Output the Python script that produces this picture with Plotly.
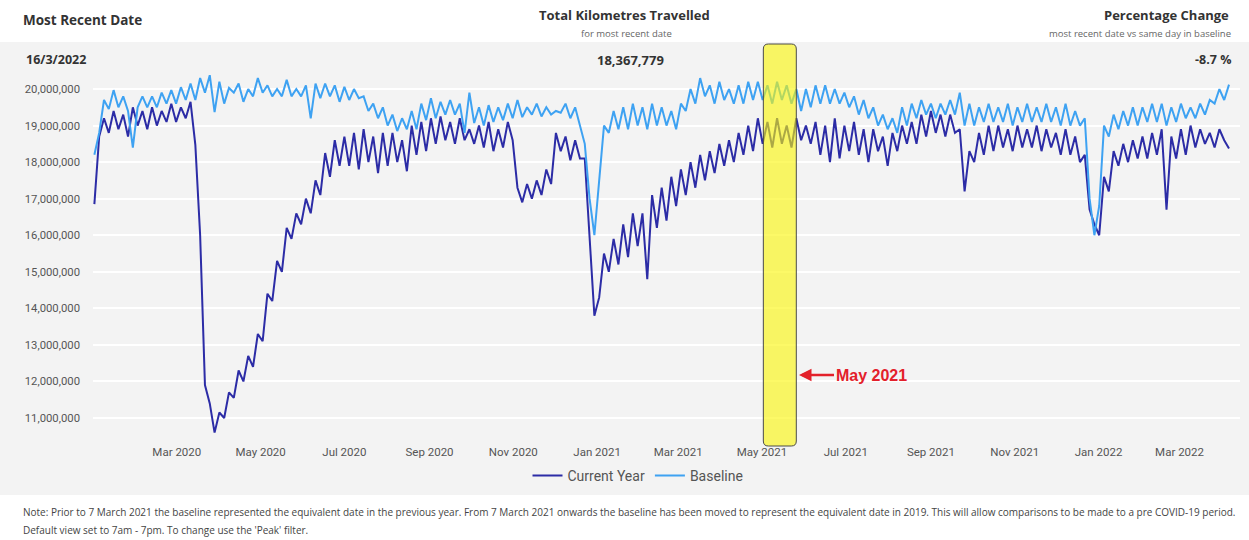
import pandas as pd
import plotly.graph_objects as go

# ---------------- data (millions of km) ----------------
# one reading per week: mid-week (weekday) level and weekend level
week_start = pd.date_range("2020-01-01", periods=119, freq="7D")

current_weekday = [
    16.85, 19.2, 19.4, 19.3, 19.5, 19.4, 19.5, 19.4, 19.6, 19.5,
    19.65, 16.0, 11.4, 11.15, 11.7, 12.3, 12.7, 13.3, 14.4, 15.3,
    16.2, 16.6, 17.0, 17.5, 18.25, 18.6, 18.7, 18.8, 18.9, 18.7,
    18.8, 18.8, 18.6, 19.0, 19.1, 19.2, 19.25, 19.1, 19.2, 18.9,
    19.0, 19.1, 18.9, 19.1, 17.3, 17.4, 17.5, 17.8, 18.8, 18.7,
    18.6, 18.1, 13.8, 15.5, 15.9, 16.3, 16.6, 16.6, 17.1, 17.3,
    17.6, 17.8, 18.0, 18.2, 18.3, 18.5, 18.6, 18.8, 19.0, 19.2,
    19.1, 19.2, 19.0, 19.2, 19.0, 19.1, 19.0, 19.2, 19.0, 19.1,
    18.9, 18.9, 18.7, 18.8, 19.0, 19.1, 19.3, 19.4, 19.3, 19.3,
    18.9, 18.3, 18.8, 19.0, 19.0, 18.9, 19.0, 18.9, 19.0, 18.9,
    18.8, 18.9, 18.7, 18.2, 16.3, 17.6, 18.3, 18.5, 18.6, 18.7,
    18.8, 18.9, 18.7, 18.9, 19.0, 18.9, 18.8, 18.9, 18.37,
]
current_weekend = [
    18.7, 18.8, 18.9, 18.7, 19.0, 18.9, 19.0, 19.1, 19.1, 19.2,
    18.47, 11.9, 10.6, 11.0, 11.55, 12.0, 12.4, 13.1, 14.2, 15.0,
    15.9, 16.3, 16.6, 17.1, 17.6, 17.9, 17.9, 17.8, 18.0, 17.7,
    17.9, 18.0, 17.75, 18.2, 18.3, 18.5, 18.6, 18.5, 18.6, 18.5,
    18.4, 18.3, 18.4, 18.6, 16.9, 17.0, 17.1, 17.4, 18.3, 18.05,
    18.1, 16.0, 14.3, 15.0, 15.2, 15.4, 15.7, 14.8, 16.2, 16.4,
    16.8, 17.1, 17.3, 17.5, 17.7, 17.9, 18.0, 18.2, 18.3, 18.5,
    18.4, 18.5, 18.4, 18.6, 18.5, 18.2, 18.0, 18.1, 18.3, 18.2,
    18.0, 18.3, 17.9, 18.3, 18.5, 18.5, 18.7, 18.8, 18.7, 18.8,
    17.2, 18.0, 18.2, 18.3, 18.4, 18.3, 18.4, 18.4, 18.3, 18.4,
    18.2, 18.2, 18.0, 16.7, 16.0, 17.2, 17.9, 18.0, 18.1, 18.1,
    18.2, 16.7, 18.1, 18.2, 18.4, 18.5, 18.4, 18.6,
]
baseline_weekday = [
    18.2, 19.7, 19.97, 19.8, 18.4, 19.8, 19.8, 19.9, 19.97, 20.05,
    20.15, 20.3, 20.38, 20.2, 20.03, 20.15, 20.0, 20.3, 20.1, 20.0,
    20.25, 20.0, 20.1, 20.15, 20.15, 20.1, 20.06, 20.0, 19.8, 19.6,
    19.5, 19.3, 19.2, 19.4, 19.6, 19.75, 19.65, 19.7, 19.6, 19.9,
    19.5, 19.56, 19.5, 19.6, 19.7, 19.5, 19.6, 19.5, 19.4, 19.6,
    19.5, 18.5, 16.0, 19.0, 19.4, 19.5, 19.6, 19.5, 19.6, 19.5,
    19.4, 19.6, 20.0, 20.3, 20.1, 20.2, 20.0, 20.1, 20.2, 20.2,
    20.1, 20.2, 20.1, 20.0, 20.0, 20.1, 20.1, 20.0, 19.9, 19.8,
    19.7, 19.5, 19.3, 19.2, 19.5, 19.6, 19.7, 19.6, 19.6, 19.7,
    19.9, 19.6, 19.5, 19.6, 19.5, 19.6, 19.5, 19.6, 19.5, 19.6,
    19.5, 19.6, 19.4, 19.2, 16.0, 19.0, 19.3, 19.4, 19.5, 19.5,
    19.6, 19.6, 19.5, 19.6, 19.5, 19.6, 19.7, 20.0, 20.12,
]
baseline_weekend = [
    18.8, 19.45, 19.5, 19.4, 19.5, 19.5, 19.5, 19.6, 19.6, 19.7,
    19.7, 19.9, 19.37, 19.6, 19.9, 19.65, 19.8, 19.9, 19.8, 19.8,
    19.8, 19.8, 19.2, 19.75, 19.8, 19.65, 19.7, 19.75, 19.4, 19.2,
    19.0, 18.85, 18.9, 18.9, 19.15, 19.2, 19.3, 19.3, 18.8, 19.07,
    19.0, 19.1, 19.15, 19.2, 19.23, 19.3, 19.25, 19.3, 19.35, 19.2,
    18.96, 17.0, 17.5, 18.8, 18.9, 18.9, 19.0, 18.9, 19.0, 19.0,
    18.9, 19.4, 19.6, 19.8, 19.6, 19.7, 19.6, 19.6, 19.7, 19.7,
    19.6, 19.7, 19.6, 19.4, 19.5, 19.6, 19.6, 19.6, 19.5, 19.3,
    19.2, 19.0, 18.9, 18.8, 19.0, 19.2, 19.3, 19.2, 19.3, 19.3,
    19.0, 19.0, 19.1, 19.1, 19.1, 19.0, 19.1, 19.1, 19.1, 19.1,
    19.0, 19.0, 19.0, 17.0, 16.8, 18.7, 18.9, 19.0, 19.0, 19.1,
    19.1, 19.0, 19.1, 19.2, 19.2, 19.3, 19.6, 19.7,
]

y_ticks = [11, 12, 13, 14, 15, 16, 17, 18, 19, 20]
x_tick_dates = ["2020-03-01", "2020-05-01", "2020-07-01", "2020-09-01", "2020-11-01",
                "2021-01-01", "2021-03-01", "2021-05-01", "2021-07-01", "2021-09-01",
                "2021-11-01", "2022-01-01", "2022-03-01"]
x_tick_labels = ["Mar 2020", "May 2020", "Jul 2020", "Sep 2020", "Nov 2020",
                 "Jan 2021", "Mar 2021", "May 2021", "Jul 2021", "Sep 2021",
                 "Nov 2021", "Jan 2022", "Mar 2022"]


def interleave(weekday, weekend):
    xs, ys = [], []
    for i, d in enumerate(week_start):
        xs.append(d)
        ys.append(weekday[i] * 1e6)
        if i < len(weekend):
            xs.append(d + pd.Timedelta(hours=84))
            ys.append(weekend[i] * 1e6)
    return xs, ys


cx, cy = interleave(current_weekday, current_weekend)
bx, by = interleave(baseline_weekday, baseline_weekend)

# ---------------- layout helpers ----------------
W, H = 1249, 540
ML, MR, MT, MB = 93, 9, 66, 97
PW, PH = W - ML - MR, H - MT - MB
X_RANGE = ["2019-12-31", "2022-04-14"]


def px(x):
    return (x - ML) / PW


def py(y):
    return (H - MB - y) / PH


def date_paper(d):
    t0, t1 = pd.Timestamp(X_RANGE[0]), pd.Timestamp(X_RANGE[1])
    return (pd.Timestamp(d) - t0) / (t1 - t0)


HEAD = "Open Sans"
AX = "Roboto"
DARK = "#2c2ca6"
LIGHT = "#3ea2f2"

fig = go.Figure()
fig.add_trace(go.Scatter(x=cx, y=cy, mode="lines", name="Current Year",
                         line=dict(color=DARK, width=2)))
fig.add_trace(go.Scatter(x=bx, y=by, mode="lines", name="Baseline",
                         line=dict(color=LIGHT, width=2)))

# rounded highlight box around May 2021
bx0, bx1 = date_paper("2021-05-02"), date_paper("2021-05-26")
by0, by1 = py(446), py(44)
rx, ry = 5 / PW, 5 / PH
box_path = (f"M {bx0 + rx},{by0} L {bx1 - rx},{by0} Q {bx1},{by0} {bx1},{by0 + ry} "
            f"L {bx1},{by1 - ry} Q {bx1},{by1} {bx1 - rx},{by1} "
            f"L {bx0 + rx},{by1} Q {bx0},{by1} {bx0},{by1 - ry} "
            f"L {bx0},{by0 + ry} Q {bx0},{by0} {bx0 + rx},{by0} Z")

shapes = [
    dict(type="rect", xref="paper", yref="paper", x0=px(0), x1=px(W),
         y0=py(495), y1=py(42), fillcolor="#f3f3f3", line=dict(width=0),
         layer="below"),
    dict(type="path", xref="paper", yref="paper", path=box_path,
         fillcolor="rgba(250,246,10,0.62)", line=dict(color="#4a4a4a", width=1),
         layer="above"),
]

ann = []


def txt(text, x, y, size, anchor="left", bold=False, color="#333333", family=HEAD):
    ann.append(dict(text=f"<b>{text}</b>" if bold else text, x=px(x), y=py(y),
                    xref="paper", yref="paper", xanchor=anchor, yanchor="middle",
                    showarrow=False, font=dict(size=size, color=color, family=family)))


txt("Most Recent Date", 21, 20, 13.5, bold=True)
txt("16/3/2022", 24, 60, 12.5, bold=True)
txt("Total Kilometres Travelled", 624, 15, 13, anchor="center", bold=True)
txt("for most recent date", 626, 33, 9.5, anchor="center", color="#666666")
txt("18,367,779", 630, 60, 13, anchor="center", bold=True)
txt("Percentage Change", 1231, 15, 13, anchor="right", bold=True)
txt("most recent date vs same day in baseline", 1233, 33, 9.5, anchor="right", color="#666666")
txt("-8.7 %", 1233, 60, 12.5, anchor="right", bold=True)
txt("Note: Prior to 7 March 2021 the baseline represented the equivalent date in the previous year. "
    "From 7 March 2021 onwards the baseline has been moved to represent the equivalent date in 2019. "
    "This will allow comparisons to be made to a pre COVID-19 period.", 21, 512, 10, color="#444444")
txt("Default view set to 7am - 7pm. To change use the 'Peak' filter.", 21, 530, 10, color="#444444")

ann.append(dict(text="<b>May 2021</b>", x=px(799), y=py(375), xref="paper", yref="paper",
                showarrow=True, ax=72, ay=0, arrowhead=2, arrowsize=1, arrowwidth=2.5,
                arrowcolor="#e3202a", standoff=0,
                font=dict(size=16, color="#e3202a", family="Liberation Sans")))

fig.update_layout(
    width=W, height=H,
    margin=dict(l=ML, r=MR, t=MT, b=MB),
    paper_bgcolor="white", plot_bgcolor="#f3f3f3",
    shapes=shapes, annotations=ann,
    legend=dict(orientation="h", x=px(638), y=py(476), xanchor="center", yanchor="middle",
                font=dict(size=14, color="#555555", family=AX), bgcolor="rgba(0,0,0,0)"),
    xaxis=dict(range=X_RANGE, tickvals=x_tick_dates, ticktext=x_tick_labels,
               showgrid=False, zeroline=False, showline=False,
               tickfont=dict(size=11.5, color="#555555", family=AX)),
    yaxis=dict(range=[10.316e6, 20.63e6], tickvals=[v * 1e6 for v in y_ticks],
               tickformat=",.0f", showgrid=True, gridcolor="white", gridwidth=1.5,
               zeroline=False, showline=False, ticklabelstandoff=12,
               tickfont=dict(size=11.3, color="#555555", family=AX)),
    showlegend=True,
)

fig.write_html("out.html", config={"displayModeBar": False},
               post_script="document.body.style.margin='0';document.body.style.padding='0';")
